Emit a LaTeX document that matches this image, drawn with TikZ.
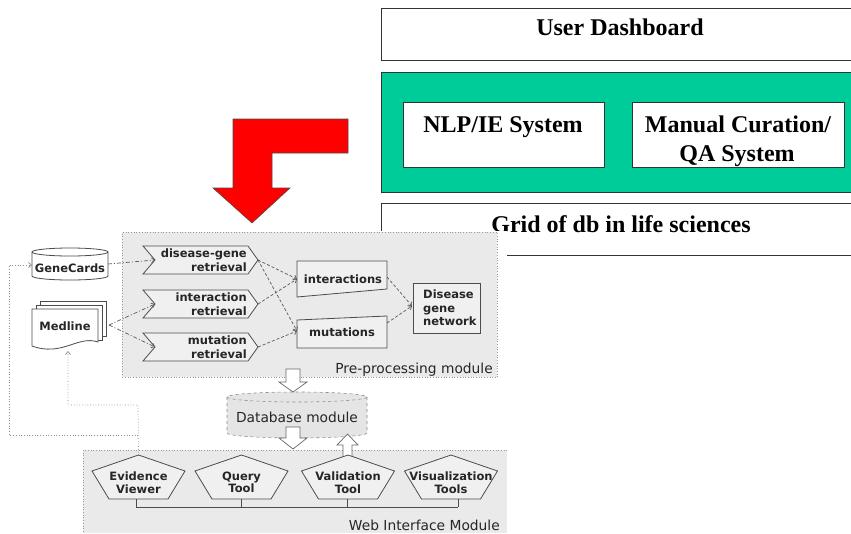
\documentclass[tikz,border=0pt]{standalone}
\usepackage{fontspec}
\setmainfont{Liberation Serif}
\newfontfamily\vfont{DejaVu Sans}
\usetikzlibrary{arrows.meta,calc}
\definecolor{dashgreen}{RGB}{0,204,153}
\definecolor{modgrey}{RGB}{234,234,234}
\definecolor{shpgrey}{RGB}{240,240,240}
\definecolor{linegrey}{RGB}{90,90,90}
\begin{document}
\begin{tikzpicture}[x=1pt,y=-1pt,
  topbox/.style={draw=black!80, line width=0.9pt, fill=white, inner sep=0pt, anchor=north west},
  toptext/.style={font=\bfseries\fontsize{24}{29}\selectfont, align=center, inner sep=0pt},
  modbox/.style={draw=black!40, dotted, line width=0.7pt, fill=modgrey, inner sep=0pt, anchor=north west},
  modlabel/.style={font=\vfont\fontsize{13.8}{16}\selectfont, text=black!85, inner sep=0pt},
  shp/.style={draw=black!70, line width=0.8pt, fill=shpgrey},
  dtext/.style={font=\vfont\bfseries\fontsize{11.5}{14}\selectfont, text=black!85, inner sep=0pt},
  ptext/.style={font=\vfont\bfseries\fontsize{11.5}{12.5}\selectfont, text=black!85, inner sep=0pt, align=center},
  conn/.style={draw=linegrey, line width=0.7pt, dash pattern=on 3pt off 2pt, -{Straight Barb[length=3pt,width=5pt]}},
  conndd/.style={draw=linegrey, line width=0.7pt, dash pattern=on 4pt off 2pt on 1pt off 2pt, -{Straight Barb[length=3pt,width=5pt]}},
  feed/.style={draw=black!45, line width=0.7pt, dotted, -{Straight Barb[length=3pt,width=5pt]}},
  blk/.style={draw=black!60, line width=0.7pt, fill=white},
  bus/.style={draw=black!70, line width=0.8pt}
]
\useasboundingbox (0,0) rectangle (851,533);
\clip (0,0) rectangle (851,533);

% ---------- top-right layered architecture ----------
\node[topbox, minimum width=475, minimum height=52] (dash) at (381,8) {};
\node[toptext, anchor=base] (dashtxt) at (620,35) {User Dashboard};
\node[topbox, fill=dashgreen, minimum width=475, minimum height=120] (green) at (381,72) {};
\node[topbox, minimum width=201, minimum height=65] (nlp) at (403,102) {};
\node[toptext, anchor=base] (nlptxt) at (503,132) {NLP/IE System};
\node[topbox, minimum width=212, minimum height=65] (man) at (632,102) {};
\node[toptext, anchor=base] (mantxt1) at (738,132) {Manual Curation/};
\node[toptext, anchor=base] (mantxt2) at (737,161) {QA System};
\node[topbox, minimum width=475, minimum height=52] (grid) at (381,203) {};
\node[toptext, anchor=base] (gridtxt) at (621,232) {Grid of db in life sciences};

% ---------- red arrow ----------
\filldraw[fill=red, draw=black!70, line width=0.6pt]
  (233,119) -- (348,119) -- (348,153) -- (272,153) -- (272,188) -- (290,188)
  -- (252,223) -- (213,188) -- (233,188) -- cycle;

% ---------- screenshot ----------
\fill[white] (0,231) rectangle (507,533);
\node[modbox, minimum width=375, minimum height=145] (pre) at (122,232) {};
\fill[modgrey] (83,450) rectangle (507,533);
\draw[draw=black!40, dotted, line width=0.7pt] (507,450) -- (83,450) -- (83,533);
\coordinate (web) at (295,491);
\node[modlabel, anchor=base east] (prelab) at (493,373) {Pre-processing module};
\node[modlabel, anchor=base east] (weblab) at (500,530) {Web Interface Module};

% GeneCards cylinder
\filldraw[shp, fill=white] (32,252) -- (32,276) arc[start angle=180,end angle=360,x radius=38pt,y radius=4pt]
  -- (108,252) arc[start angle=0,end angle=180,x radius=38pt,y radius=4pt] -- cycle;
\draw[shp, fill=none] (32,252) arc[start angle=180,end angle=360,x radius=38pt,y radius=4pt];
\node[dtext] (gc) at (70,268) {GeneCards};
\coordinate (gc-r) at (108,264);
\coordinate (gc-l) at (32,265);

% Medline stack
\filldraw[shp, fill=white] (40,301) -- (106,301) -- (106,336) -- (40,336) -- cycle;
\filldraw[shp, fill=white] (36,305) -- (102,305) -- (102,340) -- (36,340) -- cycle;
\filldraw[shp, fill=white] (32,309) -- (98,309) -- (98,342)
  .. controls (78,335) and (62,357) .. (32,346) -- cycle;
\node[dtext] (ml) at (65,326) {Medline};
\coordinate (ml-r) at (109,325);
\coordinate (ml-b) at (68,351);

% retrieval chevrons
\newcommand\mychev[4]{%
  \filldraw[shp] (143,#2-14) -- (248,#2-14) -- (258,#2) -- (248,#2+14) -- (143,#2+14) -- (155,#2) -- cycle;
  \coordinate (#1-tip) at (258,#2);
  \coordinate (#1-notch) at (155,#2);
  \node[dtext, align=right, anchor=east] (#1) at (247,#2) {#3\\#4};
}
\mychev{dg}{260}{disease-gene}{retrieval}
\mychev{ir}{304}{interaction}{retrieval}
\mychev{mr}{347}{mutation}{retrieval}

% interactions / mutations
\filldraw[shp] (297,261) -- (387,261) -- (387,289) -- (297,297) -- cycle;
\node[dtext] (inter) at (343,279) {interactions};
\coordinate (inter-w) at (297,279);
\coordinate (inter-e) at (387,277);
\filldraw[shp] (297,320) -- (387,316) -- (387,348) -- (297,348) -- cycle;
\node[dtext] (mut) at (342,332) {mutations};
\coordinate (mut-w) at (297,331);
\coordinate (mut-e) at (387,323);

% disease gene network
\filldraw[shp] (413,283) rectangle (480,333);
\node[dtext, align=left, anchor=west, font=\vfont\bfseries\fontsize{11.5}{13.5}\selectfont] (dgn) at (423,308) {Disease\\gene\\network};
\coordinate (dgn-w) at (412,306);

% connectors in pre-processing
\draw[conndd] (gc-r) -- (dg-notch);
\draw[conndd] (ml-r) -- (ir-notch);
\draw[conndd] (ml-r) -- (mr-notch);
\draw[conn] (dg-tip) -- (inter-w);
\draw[conn] (dg-tip) -- (mut-w);
\draw[conn] (ir-tip) -- (inter-w);
\draw[conn] (mr-tip) -- (mut-w);
\draw[conn] (inter-e) -- (dgn-w);
\draw[conn] (mut-e) -- (dgn-w);

% database module
\filldraw[draw=black!45, dashed, line width=0.6pt, fill=black!10]
  (227,397) -- (227,433) arc[start angle=180,end angle=360,x radius=70pt,y radius=5pt]
  -- (367,397) arc[start angle=0,end angle=180,x radius=70pt,y radius=5pt] -- cycle;
\draw[draw=black!45, dashed, line width=0.6pt] (227,397) arc[start angle=180,end angle=360,x radius=70pt,y radius=5pt];
\node[modlabel] (db) at (297,417) {Database module};

% block arrows
\filldraw[blk] (286,369) -- (300,369) -- (300,382) -- (307,382) -- (293,392) -- (279,382) -- (286,382) -- cycle;
\filldraw[blk] (286,427) -- (300,427) -- (300,438) -- (307,438) -- (293,449) -- (279,438) -- (286,438) -- cycle;
\filldraw[blk] (343,458) -- (352,458) -- (352,445) -- (358,445) -- (347.5,434) -- (337,445) -- (343,445) -- cycle;

% pentagons
\newcommand\mypent[4]{%
  \filldraw[shp] (#2,455) -- (#2+46.5,471) -- (#2+29.5,499) -- (#2-29.5,499) -- (#2-46.5,471) -- cycle;
  \coordinate (#1-top) at (#2,455);
  \node[ptext] (#1) at (#2,482.5) {#3\\#4};
}
\mypent{ev}{138.5}{Evidence}{Viewer}
\mypent{qt}{241.5}{Query}{Tool}
\mypent{vt}{348}{Validation}{Tool}
\mypent{vis}{451}{Visualization}{Tools}

% bus
\draw[bus] (136,507) -- (458,507);
\draw[bus] (136,499) -- (136,507);
\draw[bus] (241,499) -- (241,507);
\draw[bus] (347,499) -- (347,507);
\draw[bus] (458,499) -- (458,507);

% feedback dotted lines
\draw[feed] (ev-top) -- (138,405) -- (68,405) -- (ml-b);
\draw[feed] (138,435) -- (9,435) -- (9,265) -- (gc-l);
\end{tikzpicture}
\end{document}
